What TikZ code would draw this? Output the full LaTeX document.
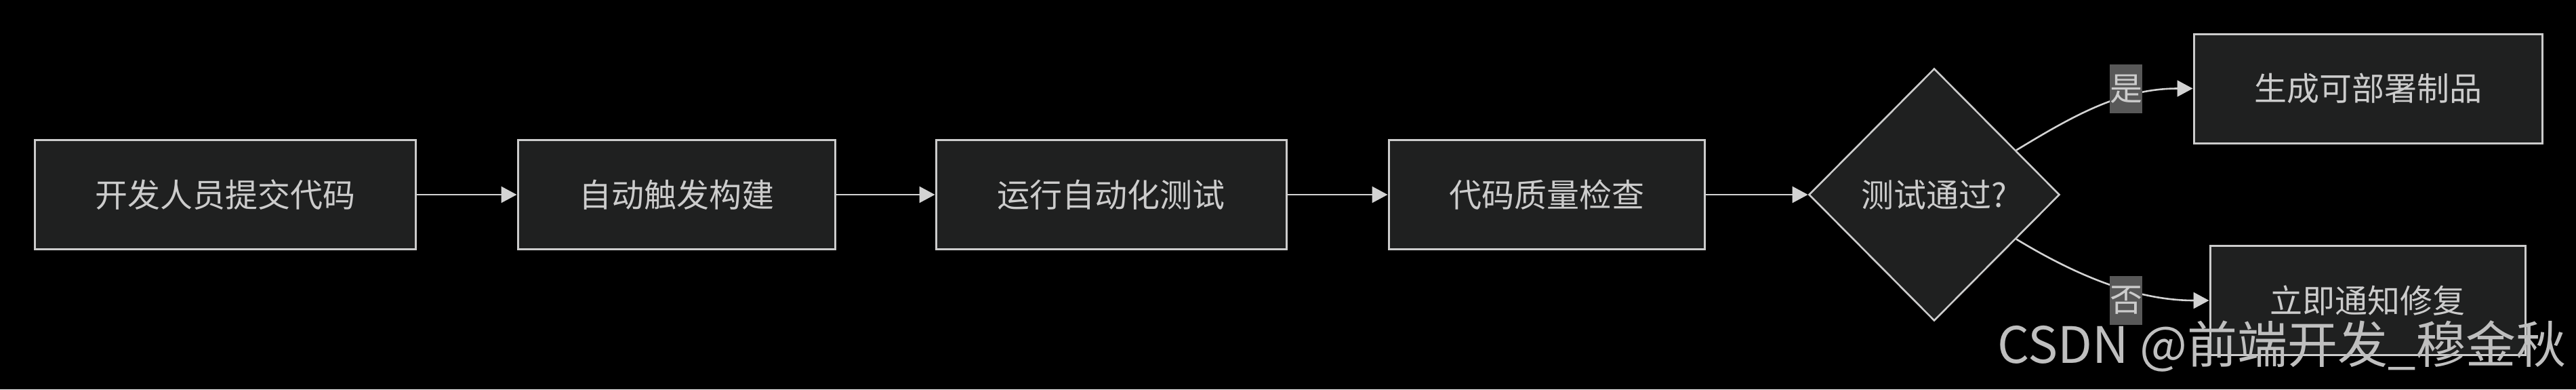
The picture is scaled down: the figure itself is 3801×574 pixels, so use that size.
\documentclass[tikz,border=0pt]{standalone}
\usepackage{fontspec}
\setmainfont{Noto Sans CJK SC}
\usetikzlibrary{shapes.geometric,arrows.meta,calc}
\definecolor{nodefill}{HTML}{1F2020}
\definecolor{nodeborder}{HTML}{CCCCCC}
\definecolor{txt}{HTML}{CCCCCC}
\definecolor{edgecol}{HTML}{D3D3D3}
\definecolor{lblfill}{HTML}{585858}
\definecolor{wm}{HTML}{BFBFBF}
\begin{document}
\begin{tikzpicture}[x=1pt,y=-1pt,
  box/.style={draw=nodeborder, fill=nodefill, line width=3pt, text=txt,
    font=\fontsize{48}{58}\selectfont, inner sep=0pt, minimum height=161pt},
  decision/.style={diamond, draw=nodeborder, fill=nodefill, line width=2.6pt, text=txt,
    font=\fontsize{48}{58}\selectfont, inner sep=0pt, minimum width=370pt, minimum height=372pt},
  edge/.style={draw=edgecol, line width=2.6pt, -{Triangle[length=23pt,width=24pt]}},
  lbl/.style={fill=lblfill, text=txt, font=\fontsize{48}{58}\selectfont, inner sep=0pt,
    minimum width=48pt, minimum height=72pt},
  watermark/.style={text=wm, font=\fontsize{74}{88}\selectfont, inner sep=0pt}
]
\fill[black] (0,0) rectangle (3801,574);
\useasboundingbox (0,0) rectangle (3801,574);

\node[box, minimum width=562pt] (b1) at (332,287) {开发人员提交代码};
\node[box, minimum width=468pt] (b2) at (998,287) {自动触发构建};
\node[box, minimum width=517pt] (b3) at (1639.5,287) {运行自动化测试};
\node[box, minimum width=466pt] (b4) at (2282,287) {代码质量检查};
\node[decision] (d) at (2854,287) {测试通过?};
\node[box, minimum width=514pt] (b5) at (3494,130.5) {生成可部署制品};
\node[box, minimum width=465pt] (b6) at (3493.5,443) {立即通知修复};

\draw[edge] (b1) -- (b2);
\draw[edge] (b2) -- (b3);
\draw[edge] (b3) -- (b4);
\draw[edge] (b4) -- (d);

\coordinate (ys) at ($(d.east)!0.35!(d.north)$);
\coordinate (ns) at ($(d.east)!0.35!(d.south)$);
\draw[edge] (ys) .. controls (3060,170) and (3130,130.5) .. (b5.west);
\draw[edge] (ns) .. controls (3060,404) and (3150,443) .. (b6.west);

\node[lbl] (ly) at (3137,131) {是};
\node[lbl] (ln) at (3137,442.5) {否};

\node[watermark, anchor=base west] (wmk) at (2947,535) {CSDN @前端开发\_穆金秋};
\end{tikzpicture}
\end{document}
